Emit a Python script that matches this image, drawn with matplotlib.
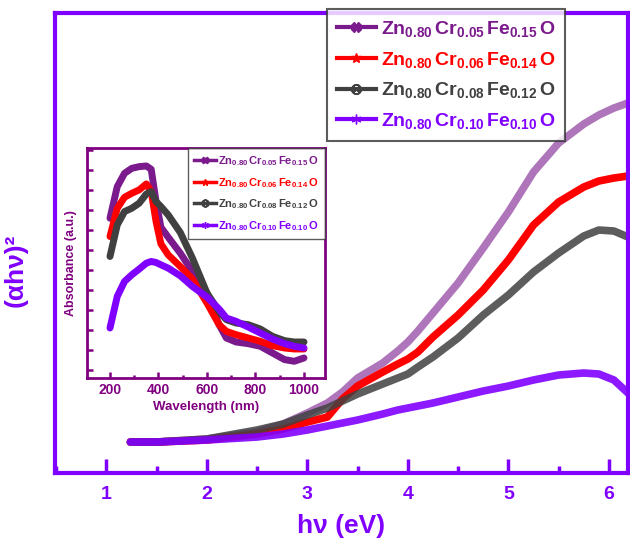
import matplotlib
matplotlib.use("Agg")
import matplotlib.pyplot as plt
from matplotlib.ticker import MultipleLocator, FixedLocator

plt.rcParams['font.family'] = ['Liberation Sans', 'DejaVu Sans']
plt.rcParams['mathtext.fontset'] = 'custom'
plt.rcParams['mathtext.rm'] = 'Liberation Sans'
plt.rcParams['mathtext.bf'] = 'Liberation Sans:bold'
plt.rcParams['mathtext.it'] = 'Liberation Sans:italic'

# ---------------- data ----------------
labels = [r'$\mathbf{Zn_{0.80}\,Cr_{0.05}\,Fe_{0.15}\,O}$',
          r'$\mathbf{Zn_{0.80}\,Cr_{0.06}\,Fe_{0.14}\,O}$',
          r'$\mathbf{Zn_{0.80}\,Cr_{0.08}\,Fe_{0.12}\,O}$',
          r'$\mathbf{Zn_{0.80}\,Cr_{0.10}\,Fe_{0.10}\,O}$']
colors = ['#7a1a8c', '#ff0000', '#404040', '#8000ff']
markers = ['X', '*', '$\\otimes$', (6, 2, 0)]

# main plot: photon energy (eV) vs (alpha h nu)^2 (arb. units)
energy = [1.24, 1.5, 2.0, 2.5, 2.76, 3.0, 3.2, 3.35, 3.5, 3.75, 3.9, 4.0, 4.1,
          4.25, 4.5, 4.75, 5.0, 5.25, 5.5, 5.75, 5.9, 6.05, 6.19]
tauc_cr005 = [0.31, 0.31, 0.34, 0.41, 0.49, 0.60, 0.70, 0.81, 0.95, 1.10, 1.22,
              1.31, 1.42, 1.60, 1.90, 2.25, 2.61, 3.01, 3.30, 3.49, 3.58, 3.65, 3.70]
tauc_cr006 = [0.31, 0.31, 0.33, 0.39, 0.44, 0.51, 0.56, 0.74, 0.87, 1.01, 1.09,
              1.14, 1.21, 1.36, 1.58, 1.83, 2.13, 2.48, 2.71, 2.86, 2.92, 2.95, 2.97]
tauc_cr008 = [0.31, 0.31, 0.34, 0.43, 0.49, 0.58, 0.65, 0.72, 0.79, 0.89, 0.95,
              0.99, 1.06, 1.16, 1.35, 1.58, 1.78, 2.01, 2.20, 2.37, 2.43, 2.42, 2.36]
tauc_cr010 = [0.31, 0.31, 0.33, 0.36, 0.39, 0.43, 0.47, 0.50, 0.53, 0.59, 0.63,
              0.65, 0.67, 0.70, 0.76, 0.82, 0.87, 0.93, 0.98, 1.00, 0.99, 0.93, 0.80]

# inset: wavelength (nm) vs absorbance (a.u.)
wavelength = [200, 230, 260, 290, 320, 350, 370, 390, 410, 440, 490, 540, 600,
              650, 680, 720, 770, 820, 870, 920, 960, 1000]
abs_cr005 = [4.80, 5.75, 6.15, 6.30, 6.35, 6.37, 6.27, 5.30, 4.53, 4.23, 3.75,
             3.20, 2.55, 1.60, 1.20, 1.08, 1.03, 0.95, 0.75, 0.55, 0.50, 0.60]
abs_cr006 = [4.25, 5.10, 5.43, 5.55, 5.65, 5.83, 5.60, 4.70, 4.03, 3.70, 3.35,
             2.97, 2.25, 1.60, 1.40, 1.30, 1.20, 1.10, 0.97, 0.90, 0.87, 0.87]
abs_cr008 = [3.65, 4.60, 5.00, 5.10, 5.25, 5.53, 5.60, 5.30, 5.15, 4.90, 4.37,
             3.60, 2.55, 2.00, 1.75, 1.65, 1.60, 1.47, 1.25, 1.12, 1.08, 1.08]
abs_cr010 = [1.50, 2.45, 2.90, 3.10, 3.27, 3.45, 3.50, 3.47, 3.40, 3.30, 3.07,
             2.75, 2.43, 2.07, 1.80, 1.70, 1.53, 1.35, 1.17, 1.03, 0.95, 0.90]

main_ticks = [1, 2, 3, 4, 5, 6]
inset_ticks = [200, 400, 600, 800, 1000]

tauc = [tauc_cr005, tauc_cr006, tauc_cr008, tauc_cr010]
absorb = [abs_cr005, abs_cr006, abs_cr008, abs_cr010]

# ---------------- figure ----------------
SPINE = '#8000ff'
INSET = '#800080'

fig = plt.figure(figsize=(6.3, 5.43), dpi=100)
ax = fig.add_axes([0.0873, 0.1289, 0.9095, 0.8471])

main_alpha = [0.6, 1.0, 0.85, 0.9]
for y, c, m, lab, a in zip(tauc, colors, markers, labels, main_alpha):
    ax.plot(energy, y, color=c, lw=5.5, alpha=a, solid_capstyle='round',
            solid_joinstyle='round')
    ax.plot([], [], color=c, lw=3, marker=m, markersize=7, label=lab)

ax.set_xlim(0.49, 6.19)
ax.set_ylim(0, 4.6)
ax.xaxis.set_major_locator(FixedLocator(main_ticks))
ax.xaxis.set_minor_locator(MultipleLocator(0.5))
ax.set_yticks([])
for s in ax.spines.values():
    s.set_color(SPINE)
    s.set_linewidth(3)
ax.tick_params(axis='x', which='major', direction='in', length=10, width=2.5,
               color=SPINE, labelcolor=SPINE, labelsize=14, pad=9)
ax.tick_params(axis='x', which='minor', direction='in', length=5, width=2.5,
               color=SPINE)
for t in ax.get_xticklabels():
    t.set_fontweight('bold')
ax.set_xlabel('hν (eV)', fontsize=19, fontweight='bold', color=SPINE, labelpad=8)
ax.set_ylabel('(αhν)²', fontsize=19, fontweight='bold', color=SPINE)
ax.yaxis.set_label_coords(-0.048, 0.44)

leg = ax.legend(loc='upper left', bbox_to_anchor=(0.475, 1.008), fontsize=14,
                frameon=True, fancybox=False, handlelength=2.0,
                handletextpad=0.25, borderpad=0.5, labelspacing=0.55,
                labelcolor='linecolor', borderaxespad=0.0)
leg.get_frame().set_edgecolor('#333333')
leg.get_frame().set_linewidth(1.5)
leg.set_zorder(10)

# ---------------- inset ----------------
ins = fig.add_axes([0.138, 0.304, 0.378, 0.4234])
for y, c, m, lab in zip(absorb, colors, markers, labels):
    ins.plot(wavelength, y, color=c, lw=5, solid_capstyle='round',
             solid_joinstyle='round')
    ins.plot([], [], color=c, lw=2.5, marker=m, markersize=5, label=lab)

ins.set_xlim(105, 1087)
ins.set_ylim(0, 6.91)
ins.xaxis.set_major_locator(FixedLocator(inset_ticks))
ins.xaxis.set_minor_locator(MultipleLocator(100))
ins.set_yticks([0.25 + 0.6 * k for k in range(12)])
ins.set_yticklabels([])
for s in ins.spines.values():
    s.set_color(INSET)
    s.set_linewidth(2)
ins.tick_params(axis='both', which='major', direction='in', length=4, width=1.8,
                color=INSET, labelcolor=INSET, labelsize=10)
ins.tick_params(axis='x', which='minor', direction='in', length=2.5, width=1.8,
                color=INSET)
for t in ins.get_xticklabels():
    t.set_fontweight('bold')
ins.set_xlabel('Wavelength (nm)', fontsize=9.5, fontweight='bold', color=INSET,
               labelpad=3)
ins.set_ylabel('Absorbance (a.u.)', fontsize=9, fontweight='bold', color=INSET,
               labelpad=4)

leg2 = ins.legend(loc='upper right', bbox_to_anchor=(1.0, 1.0), fontsize=8,
                  frameon=True, fancybox=False, handlelength=2.0,
                  handletextpad=0.2, borderpad=0.55, labelspacing=0.7,
                  labelcolor='linecolor', borderaxespad=0.0)
leg2.get_frame().set_edgecolor('#333333')
leg2.get_frame().set_linewidth(1)

fig.savefig('out.png', dpi=100)
